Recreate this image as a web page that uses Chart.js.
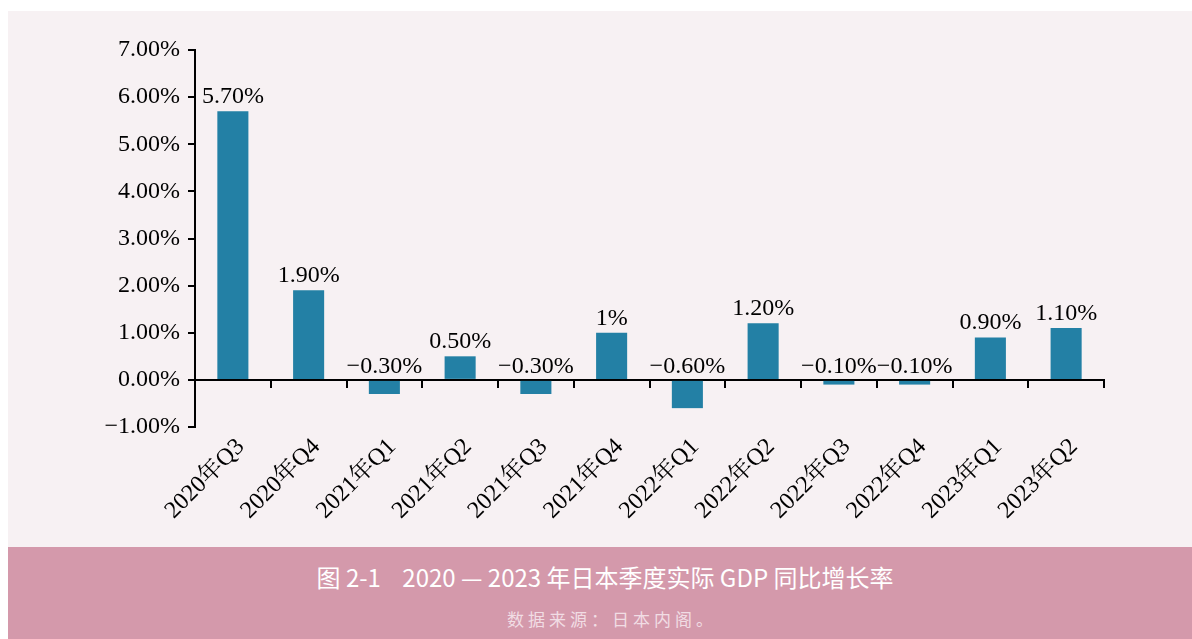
<!DOCTYPE html>
<html><head><meta charset="utf-8">
<script src="https://cdn.jsdelivr.net/npm/chart.js@4.4.1/dist/chart.umd.min.js"></script>
<style>
html,body{margin:0;padding:0;background:#fff;width:1192px;height:639px;overflow:hidden;}
#panel{position:absolute;left:8px;top:11px;width:1184px;height:536px;background:#f7f1f3;}
#caption{position:absolute;left:8px;top:547px;width:1184px;height:92px;background:#d499ab;font-family:'Noto Sans CJK SC','Noto Sans',sans-serif;text-align:center;}
#title{position:absolute;top:13px;left:5px;width:100%;font-size:24px;color:#fff;line-height:34px;}
#source{position:absolute;top:60px;left:12px;width:100%;font-size:17px;color:#f1dde4;line-height:24px;letter-spacing:4px;}
canvas{display:block;}
</style>
</head><body>
<div id="panel"><canvas id="c" width="1184" height="536"></canvas></div>
<div id="caption">
  <div id="title">图 2-1&nbsp;&nbsp;&nbsp;&nbsp;2020 — 2023 年日本季度实际 GDP 同比增长率</div>
  <div id="source">数据来源：日本内阁。</div>
</div>
<script>
const categories = ['2020年Q3','2020年Q4','2021年Q1','2021年Q2','2021年Q3','2021年Q4','2022年Q1','2022年Q2','2022年Q3','2022年Q4','2023年Q1','2023年Q2'];
const growth = [5.7, 1.9, -0.3, 0.5, -0.3, 1.0, -0.6, 1.2, -0.1, -0.1, 0.9, 1.1];
const valueLabels = ['5.70%','1.90%','\u22120.30%','0.50%','\u22120.30%','1%','\u22120.60%','1.20%','\u22120.10%','\u22120.10%','0.90%','1.10%'];
const yMin = -1, yMax = 7, yStep = 1;

const serif = "'Liberation Serif','Noto Serif CJK SC','Noto Sans CJK SC',serif";

const valueLabelPlugin = {
  id: 'valueLabels',
  afterDatasetsDraw(chart) {
    const ctx = chart.ctx;
    const meta = chart.getDatasetMeta(0);
    ctx.save();
    ctx.font = '24px ' + serif;
    ctx.fillStyle = '#000';
    ctx.textAlign = 'center';
    ctx.textBaseline = 'alphabetic';
    meta.data.forEach((bar, i) => {
      const top = Math.min(bar.y, bar.base);
      ctx.fillText(valueLabels[i], bar.x, top - 8);
    });
    ctx.restore();
  }
};

new Chart(document.getElementById('c'), {
  type: 'bar',
  data: {
    labels: categories,
    datasets: [{
      data: growth,
      backgroundColor: '#2380a5',
      borderWidth: 0,
      categoryPercentage: 1,
      barPercentage: 0.41
    }]
  },
  options: {
    responsive: false,
    animation: false,
    devicePixelRatio: 1,
    layout: { padding: { top: 39, right: 88, bottom: 120, left: 0 } },
    plugins: { legend: { display: false }, tooltip: { enabled: false }, title: { display: false } },
    scales: {
      x: {
        position: { y: 0 },
        offset: true,
        grid: { offset: true, drawOnChartArea: false, drawTicks: true, tickLength: 7, color: '#000', lineWidth: 2 },
        border: { display: true, color: '#000', width: 2 },
        ticks: { minRotation: 45, maxRotation: 45, padding: 46, labelOffset: 8, color: '#000', font: { family: serif, size: 24 } },
        afterFit: s => { s.height = 0; }
      },
      y: {
        min: yMin, max: yMax,
        ticks: {
          stepSize: yStep, padding: 8, color: '#000', font: { family: serif, size: 24 },
          callback: v => (v < 0 ? '\u2212' : '') + Math.abs(v).toFixed(2) + '%'
        },
        grid: { drawOnChartArea: false, tickLength: 7, color: '#000', lineWidth: 2 },
        border: { display: true, color: '#000', width: 2 },
        afterFit: s => { s.width = 187; }
      }
    }
  },
  plugins: [valueLabelPlugin]
});
</script>
</body></html>
